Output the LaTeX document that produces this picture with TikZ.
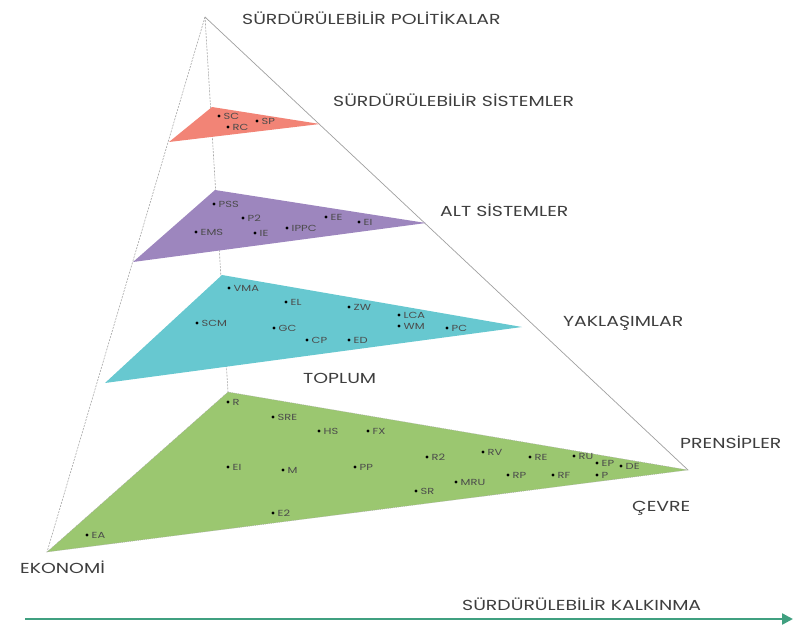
\documentclass[tikz,border=0pt]{standalone}
\usepackage{fontspec}
\setmainfont{Poppins}
\newfontfamily\widefont[FakeStretch=1.3]{Poppins}
\usetikzlibrary{arrows.meta}
\definecolor{salmonfill}{RGB}{242,132,118}
\definecolor{purplefill}{RGB}{157,134,190}
\definecolor{cyanfill}{RGB}{103,200,208}
\definecolor{greenfill}{RGB}{155,199,112}
\definecolor{headtext}{RGB}{62,62,62}
\definecolor{lbltext}{RGB}{75,75,75}
\definecolor{arrowgreen}{RGB}{64,160,128}
\begin{document}
\begin{tikzpicture}[x=1pt,y=-1pt,
  head/.style={anchor=base west,inner sep=0pt,text=headtext,font=\widefont\fontsize{14.5}{16}\selectfont},
  lbl/.style={anchor=west,inner sep=0pt,xshift=4.5pt,text=lbltext,font=\widefont\fontsize{8.8}{10}\selectfont},
  guide/.style={draw=gray!70,line width=0.6pt,dash pattern=on 2pt off 1.2pt},
  edge/.style={draw=gray!75,line width=0.7pt},
  layer/.style={draw=black!35,line width=0.4pt,dash pattern=on 1pt off 1pt}]
\useasboundingbox (0,0) rectangle (798,627);
% pyramid frame
\coordinate (apex) at (205,17);
\coordinate (bl) at (47,552);
\coordinate (br) at (688,470);
\coordinate (mid) at (228,392);
\draw[guide] (apex) -- (bl);
\draw[guide] (apex) -- (mid);
\draw[edge] (apex) -- (br);
% layers
\coordinate (r1) at (212,107); \coordinate (r2) at (320,124); \coordinate (r3) at (169,142);
\coordinate (p1) at (215,190); \coordinate (p2) at (426,223); \coordinate (p3) at (133,262);
\coordinate (c1) at (222,275); \coordinate (c2) at (522,327); \coordinate (c3) at (105,383);
\fill[salmonfill] (r1) -- (r2) -- (r3) -- cycle;
\fill[purplefill] (p1) -- (p2) -- (p3) -- cycle;
\fill[cyanfill] (c1) -- (c2) -- (c3) -- cycle;
\filldraw[fill=greenfill,layer] (mid) -- (br) -- (bl) -- cycle;
% labelled points
\foreach \n/\x/\y in {SC/219/116, RC/228/127, SP/257/121,
  PSS/214/204, P2/243/218, EE/326/217, EI/359/222, EMS/196/232, IE/255/233, IPPC/287/228,
  VMA/229/288, EL/286/302, ZW/349/307, LCA/399/315, SCM/197/323, GC/274/328, WM/399/326, PC/447/328, CP/307/340, ED/349/340,
  R/228/402, SRE/273/417, HS/319/431, FX/368/431, EI/228/467, M/283/470, PP/355/467, E2/273/513, EA/87/535,
  R2/427/457, RV/483/452, RE/530/457, RU/574/456, EP/597/463, DE/621/466, MRU/456/482, RP/508/475, RF/553/475, P/597/475, SR/416/491}{
  \fill (\x,\y) circle (1.7pt);
  \node[lbl] (l\n\x) at (\x,\y) {\n};
}
% headings
\node[head] (hpol) at (242,24) {SÜRDÜRÜLEBİLİR POLİTİKALAR};
\node[head] (hsis) at (333,106) {SÜRDÜRÜLEBİLİR SİSTEMLER};
\node[head] (halt) at (440,216) {ALT SİSTEMLER};
\node[head] (hyak) at (563,326) {YAKLAŞIMLAR};
\node[head] (htop) at (303,383) {TOPLUM};
\node[head] (hpre) at (680,448) {PRENSİPLER};
\node[head] (hcev) at (632,511) {ÇEVRE};
\node[head] (heko) at (20,573) {EKONOMİ};
\node[head] (hkal) at (462,610) {SÜRDÜRÜLEBİLİR KALKINMA};
% development arrow
\coordinate (as) at (25,619);
\coordinate (ae) at (793,619);
\draw[arrowgreen,line width=2.4pt,-{Triangle[length=11pt,width=11pt]}] (as) -- (ae);
\end{tikzpicture}
\end{document}
